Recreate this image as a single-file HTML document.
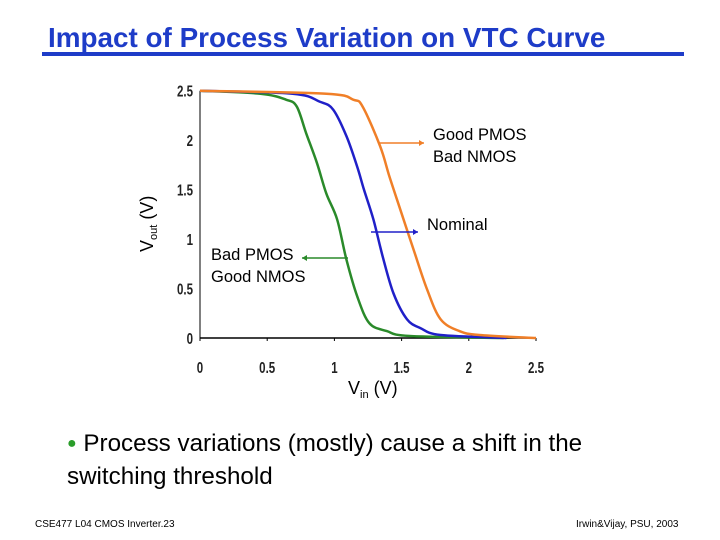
<!DOCTYPE html>
<html><head><meta charset="utf-8"><style>
body{margin:0;width:720px;height:540px;background:#fff;position:relative;overflow:hidden;font-family:"Liberation Sans",Arial,sans-serif}
.a{position:absolute;white-space:nowrap}
</style></head><body>
<div class="a" style="left:48px;top:22px;font-size:28px;font-weight:bold;color:#1e3cc8;transform:scaleX(0.995);transform-origin:0 0">Impact of Process Variation on VTC Curve</div>
<div class="a" style="left:42px;top:52px;width:642px;height:4px;background:#1e3cc8"></div>
<svg class="a" style="left:0;top:0" width="720" height="540" id="chart"></svg>
<div class="a" style="left:67px;top:429px;font-size:24.2px;line-height:30px;color:#000"><span style="color:#2a9d2a;font-size:16px;position:relative;top:-3px">●</span> Process variations (mostly) cause a shift in the<br>switching threshold</div>
<div class="a" style="left:35px;top:519px;font-size:10px">CSE477 L04 CMOS Inverter.23</div>
<div class="a" style="left:576px;top:519px;font-size:10px">Irwin&amp;Vijay, PSU, 2003</div>
<script>
const xTicks=[0,0.5,1,1.5,2,2.5];
const yTicks=[0,0.5,1,1.5,2,2.5];
const greenX=[0,0.45,0.64,0.72,0.79,0.87,0.94,1.02,1.09,1.17,1.26,1.39,1.56,2.26];
const greenY=[2.5,2.47,2.41,2.34,2.07,1.77,1.46,1.2,0.79,0.42,0.15,0.07,0.02,0];
const blueX=[0,0.69,0.89,0.99,1.09,1.17,1.22,1.29,1.36,1.44,1.54,1.64,1.79,2.28];
const blueY=[2.5,2.47,2.39,2.31,2.04,1.73,1.5,1.2,0.82,0.45,0.19,0.1,0.03,0];
const orangeX=[0,0.94,1.14,1.21,1.34,1.41,1.49,1.59,1.69,1.79,1.93,2.08,2.5];
const orangeY=[2.5,2.47,2.41,2.34,1.94,1.63,1.3,0.89,0.49,0.19,0.07,0.03,0];
const svg=document.getElementById('chart');
const NS='http://www.w3.org/2000/svg';
const X=v=>200+v*134.4, Y=v=>338-v*98.9;
function mk(t,at){const e=document.createElementNS(NS,t);for(const k in at)e.setAttribute(k,at[k]);svg.appendChild(e);return e;}
let e=mk('line',{x1:200,y1:Y(2.5),x2:200,y2:338,stroke:'#000','stroke-width':1});

e=mk('line',{x1:200,y1:338,x2:X(2.5),y2:338,stroke:'#000','stroke-width':1.5});

xTicks.forEach(v=>{const t=mk('text',{x:X(v),y:373,'text-anchor':'middle','font-size':16,'font-weight':'bold',fill:'#222',transform:`translate(${X(v)},0) scale(0.72,1) translate(${-X(v)},0)`});t.textContent=v;

mk('line',{x1:X(v),y1:338,x2:X(v),y2:341,stroke:'#000'});});
yTicks.forEach(v=>{const t=mk('text',{x:193,y:Y(v)+6,'text-anchor':'end','font-size':16,'font-weight':'bold',fill:'#222',transform:`translate(193,0) scale(0.72,1) translate(-193,0)`});t.textContent=v;
});
function series(xs,ys,c,n){const P=xs.map((x,i)=>[X(x),Y(ys[i])]);let d='M'+P[0][0]+','+P[0][1];
for(let i=0;i<P.length-1;i++){const p0=P[Math.max(i-1,0)],p1=P[i],p2=P[i+1],p3=P[Math.min(i+2,P.length-1)];
d+=` C${p1[0]+(p2[0]-p0[0])/6},${p1[1]+(p2[1]-p0[1])/6} ${p2[0]-(p3[0]-p1[0])/6},${p2[1]-(p3[1]-p1[1])/6} ${p2[0]},${p2[1]}`;}
const p=mk('path',{d,fill:'none',stroke:c,'stroke-width':2.5,'stroke-linejoin':'round'});
}
series(greenX,greenY,'#2a8a2a','series-bad-pmos');
series(blueX,blueY,'#2020c8','series-nominal');
series(orangeX,orangeY,'#f07f28','series-good-pmos');
function arrow(x1,y,x2,c,n){const l=mk('line',{x1,y1:y,x2,y2:y,stroke:c,'stroke-width':1.5});
const d=x2>x1?1:-1;mk('polygon',{points:`${x2},${y} ${x2-5*d},${y-3} ${x2-5*d},${y+3}`,fill:c});}
arrow(378,143,424,'#f07f28','arrow-good-pmos');
arrow(371,232,418,'#2020c8','arrow-nominal');
arrow(348,258,302,'#2a8a2a','arrow-bad-pmos');
function label(x,y,s,n){const t=mk('text',{x,y,'font-size':16.5,fill:'#000'});t.textContent=s;}
label(433,140,'Good PMOS','label-good-pmos');label(433,162,'Bad NMOS','label-bad-nmos');
label(427,230,'Nominal','label-nominal');
label(211,260,'Bad PMOS','label-bad-pmos');label(211,282,'Good NMOS','label-good-nmos');
let t=mk('text',{x:348,y:394,'font-size':18,fill:'#000'});t.innerHTML='V<tspan font-size="11" dy="4">in</tspan><tspan dy="-4"> (V)</tspan>';

t=mk('text',{x:0,y:0,'font-size':18,fill:'#000',transform:'translate(153,252) rotate(-90)'});t.innerHTML='V<tspan font-size="11" dy="4">out</tspan><tspan dy="-4"> (V)</tspan>';

</script>
</body></html>
